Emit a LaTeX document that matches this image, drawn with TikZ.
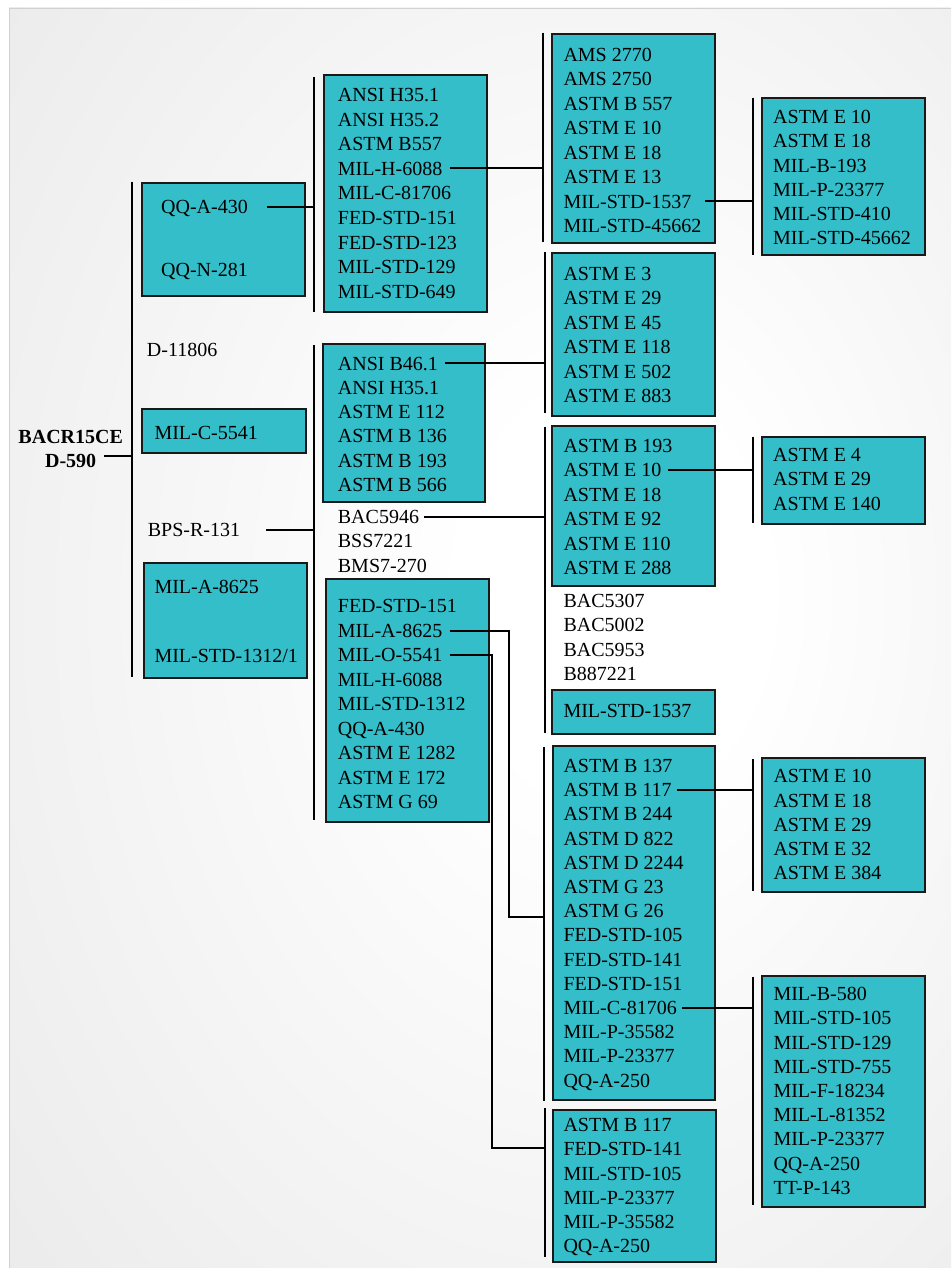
\documentclass[tikz,border=0pt]{standalone}
\usepackage{fontspec}
\setmainfont{Liberation Serif}
\usepackage{xcolor}
\usetikzlibrary{positioning}
\definecolor{BoxTeal}{RGB}{51,190,201}
\pgfdeclareradialshading{pageglow}{\pgfpoint{8bp}{2bp}}{color(0bp)=(white); color(8bp)=(white); color(48bp)=(black!10); color(75bp)=(black!13)}

\begin{document}
\begin{tikzpicture}[x=1pt, y=-1pt,
    stdbox/.style={rectangle, draw=black!90, fill=BoxTeal, line width=2pt, anchor=north west, inner sep=0pt},
    item/.style={anchor=west, inner sep=0pt, text height=13.5pt, text depth=0pt, font=\fontsize{20}{24}\selectfont},
    bar/.style={line width=2pt},
    link/.style={line width=2pt}
]
\useasboundingbox (0,0) rectangle (951,1268);
\shade[shading=pageglow] (9,8) rectangle (951,1268);
\draw[black!18, line width=0.8pt] (9,1268) -- (9,8) -- (951,8);

% root
\node[item, anchor=center, font=\bfseries\fontsize{20}{24}\selectfont] (root1) at (70.7,436.7) {BACR15CE};
\node[item, anchor=center, font=\bfseries\fontsize{20}{24}\selectfont] (root2) at (70.7,461) {D-590};

% first column
\node[stdbox, minimum width=163pt, minimum height=113.6pt] (qqbox) at (140.7,181.7) {};
\node[item] (qqa) at (161,207) {QQ-A-430};
\node[item] (qqn) at (161,270) {QQ-N-281};
\node[item] (d11806) at (146.7,350) {D-11806};
\node[stdbox, minimum width=164.3pt, minimum height=43.4pt] (milcbox) at (140.7,408.3) {};
\node[item] (milc) at (154.3,432.7) {MIL-C-5541};
\node[item] (bpsr) at (147.7,530) {BPS-R-131};
\node[stdbox, minimum width=163.3pt, minimum height=114.4pt] (milabox) at (142.7,562.3) {};
\node[item] (mila) at (154.3,586.7) {MIL-A-8625};
\node[item] (milstd) at (154.3,656) {MIL-STD-1312/1};

% second column
\node[stdbox, minimum width=162.4pt, minimum height=237pt] (boxA) at (323.3,74) {};
\foreach \t [count=\i] in {ANSI H35.1, ANSI H35.2, ASTM B557, MIL-H-6088, MIL-C-81706,
    FED-STD-151, FED-STD-123, MIL-STD-129, MIL-STD-649}
  \node[item] (a-\i) at (337.7,{70.1+24.6*\i}) {\t};
\node[stdbox, minimum width=162.3pt, minimum height=158pt] (boxB) at (321.7,342.7) {};
\foreach \t [count=\i] in {ANSI B46.1, ANSI H35.1, ASTM E 112, ASTM B 136, ASTM B 193, ASTM B 566}
  \node[item] (b-\i) at (337.7,{339+24.3*\i}) {\t};
\foreach \t [count=\i] in {BAC5946, BSS7221, BMS7-270}
  \node[item] (p-\i) at (337.7,{492+24.5*\i}) {\t};
\node[stdbox, minimum width=162.7pt, minimum height=242.4pt] (boxC) at (325,578.3) {};
\foreach \t [count=\i] in {FED-STD-151, MIL-A-8625, MIL-O-5541, MIL-H-6088, MIL-STD-1312,
    QQ-A-430, ASTM E 1282, ASTM E 172, ASTM G 69}
  \node[item] (c-\i) at (337.7,{581.5+24.5*\i}) {\t};

% third column
\node[stdbox, minimum width=163.3pt, minimum height=208.4pt] (boxD) at (551,33.3) {};
\foreach \t [count=\i] in {AMS 2770, AMS 2750, ASTM B 557, ASTM E 10, ASTM E 18, ASTM E 13,
    MIL-STD-1537, MIL-STD-45662}
  \node[item] (d-\i) at (563.3,{29.8+24.5*\i}) {\t};
\node[stdbox, minimum width=163.3pt, minimum height=162.7pt] (boxE) at (551,252.3) {};
\foreach \t [count=\i] in {ASTM E 3, ASTM E 29, ASTM E 45, ASTM E 118, ASTM E 502, ASTM E 883}
  \node[item] (e-\i) at (563.3,{248.8+24.5*\i}) {\t};
\node[stdbox, minimum width=163.3pt, minimum height=160pt] (boxF) at (551,425) {};
\foreach \t [count=\i] in {ASTM B 193, ASTM E 10, ASTM E 18, ASTM E 92, ASTM E 110, ASTM E 288}
  \node[item] (f-\i) at (563.3,{421.2+24.5*\i}) {\t};
\foreach \t [count=\i] in {BAC5307, BAC5002, BAC5953, B887221}
  \node[item] (q-\i) at (563.3,{576+24.5*\i}) {\t};
\node[stdbox, minimum width=163.3pt, minimum height=43.4pt] (boxG) at (551,689.3) {};
\node[item] (g-1) at (563.3,711) {MIL-STD-1537};
\node[stdbox, minimum width=162pt, minimum height=354.6pt] (boxH) at (552.3,744.7) {};
\foreach \t [count=\i] in {ASTM B 137, ASTM B 117, ASTM B 244, ASTM D 822, ASTM D 2244,
    ASTM G 23, ASTM G 26, FED-STD-105, FED-STD-141, FED-STD-151, MIL-C-81706,
    MIL-P-35582, MIL-P-23377, QQ-A-250}
  \node[item] (h-\i) at (563.3,{741.5+24.2*\i}) {\t};
\node[stdbox, minimum width=162.7pt, minimum height=151.4pt] (boxI) at (552.3,1109.3) {};
\foreach \t [count=\i] in {ASTM B 117, FED-STD-141, MIL-STD-105, MIL-P-23377, MIL-P-35582, QQ-A-250}
  \node[item] (i-\i) at (563.3,{1100.8+24.2*\i}) {\t};

% fourth column
\node[stdbox, minimum width=163.3pt, minimum height=157.6pt] (boxJ) at (760.7,96.7) {};
\foreach \t [count=\i] in {ASTM E 10, ASTM E 18, MIL-B-193, MIL-P-23377, MIL-STD-410, MIL-STD-45662}
  \node[item] (j-\i) at (773,{92.4+24.3*\i}) {\t};
\node[stdbox, minimum width=163.3pt, minimum height=86.7pt] (boxK) at (760.7,436) {};
\foreach \t [count=\i] in {ASTM E 4, ASTM E 29, ASTM E 140}
  \node[item] (k-\i) at (773,{429.5+24.8*\i}) {\t};
\node[stdbox, minimum width=163pt, minimum height=133.4pt] (boxL) at (761,757.3) {};
\foreach \t [count=\i] in {ASTM E 10, ASTM E 18, ASTM E 29, ASTM E 32, ASTM E 384}
  \node[item] (l-\i) at (773.3,{751.7+24.3*\i}) {\t};
\node[stdbox, minimum width=163pt, minimum height=230.7pt] (boxM) at (761,975) {};
\foreach \t [count=\i] in {MIL-B-580, MIL-STD-105, MIL-STD-129, MIL-STD-755, MIL-F-18234,
    MIL-L-81352, MIL-P-23377, QQ-A-250, TT-P-143}
  \node[item] (m-\i) at (773.3,{969.8+24.2*\i}) {\t};

% brackets
\foreach \n/\x/\ya/\yb in {0/132/182/677, 1/314/77/312, 2/314/345/820, 3/543.3/32.7/241.7,
    4/544.5/252.3/413.3, 5/545/426.7/733.3, 6/544.3/747.3/1100.7, 7/545/1108.3/1257.3,
    8/753.3/97.7/255, 9/753.3/436.7/522.7, 10/753.3/759/890.7, 11/753.3/976.7/1205} {
  \coordinate (bar\n-t) at (\x,\ya);
  \coordinate (bar\n-b) at (\x,\yb);
  \draw[bar] (bar\n-t) -- (bar\n-b);
}

% links
\draw[link] ([xshift=8pt,yshift=5pt]root2.east) -- ([yshift=5pt]root2.east -| bar0-t);
\draw[link] ([xshift=19pt]qqa.east) -- (qqa.east -| bar1-t);
\draw[link] ([xshift=26pt]bpsr.east) -- (bpsr.east -| bar2-t);
\draw[link] ([xshift=7pt]a-4.east) -- (a-4.east -| bar3-t);
\draw[link] ([xshift=7pt]b-1.east) -- (b-1.east -| bar4-t);
\draw[link] ([xshift=5pt]p-1.east) -- (p-1.east -| bar5-t);
\coordinate (jog6) at (509.3,916.7);
\coordinate (jog7) at (492.3,1148.3);
\draw[link] ([xshift=7pt]c-2.east) -| (jog6) -- (jog6 -| bar6-t);
\draw[link] ([xshift=7pt]c-3.east) -| (jog7) -- (jog7 -| bar7-t);
\draw[link] ([xshift=14pt]d-7.east) -- (d-7.east -| bar8-t);
\draw[link] ([xshift=7pt]f-2.east) -- (f-2.east -| bar9-t);
\draw[link] ([xshift=5pt]h-2.east) -- (h-2.east -| bar10-t);
\draw[link] ([xshift=5pt]h-11.east) -- (h-11.east -| bar11-t);
\end{tikzpicture}
\end{document}
